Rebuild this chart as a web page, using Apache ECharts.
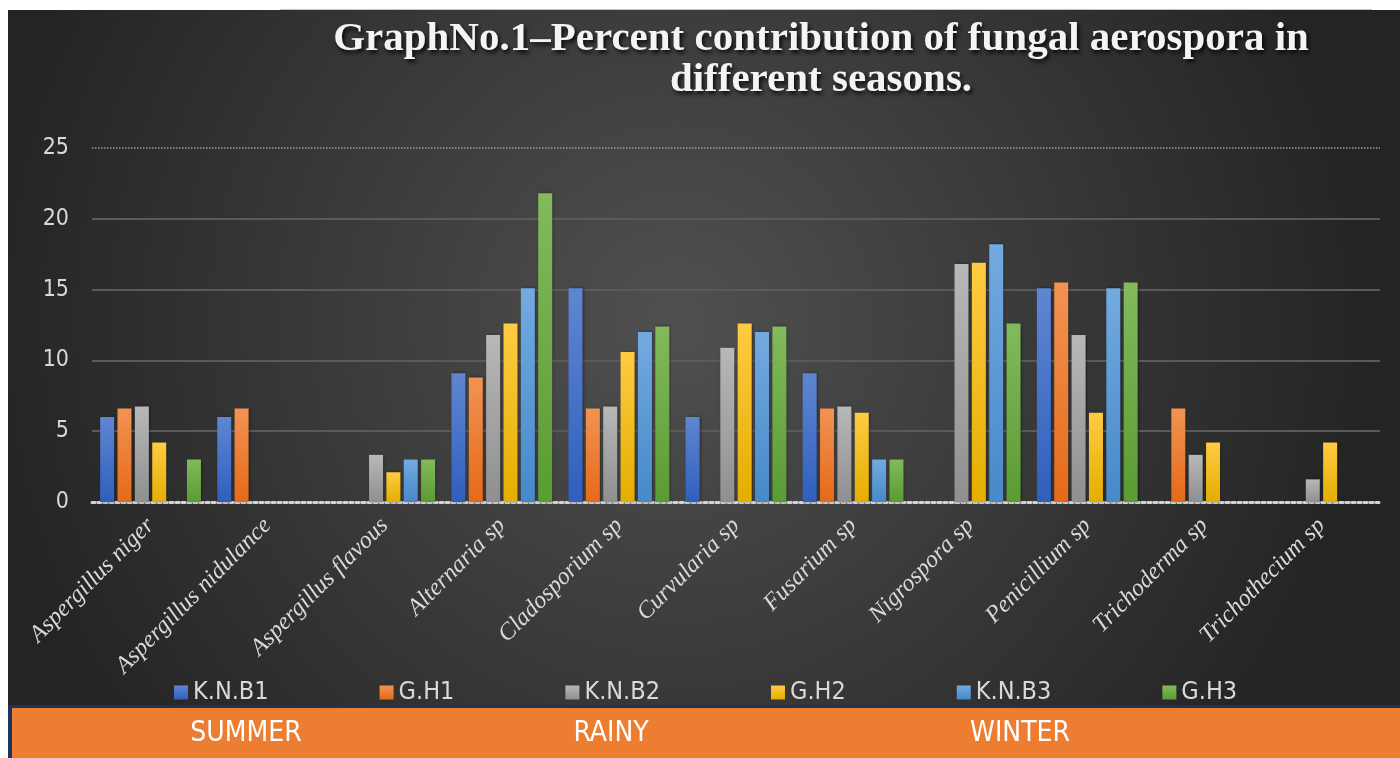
<!DOCTYPE html>
<html>
<head>
<meta charset="utf-8">
<script src="https://cdn.jsdelivr.net/npm/echarts@6/dist/echarts.min.js"></script>
<style>
html,body{margin:0;padding:0;background:#fff;}
#chart{width:1400px;height:758px;}
</style>
</head>
<body>
<div id="chart"></div>
<script>
const categories = ['Aspergillus niger','Aspergillus nidulance','Aspergillus flavous','Alternaria sp','Cladosporium sp','Curvularia sp','Fusarium sp','Nigrospora sp','Penicillium sp','Trichoderma sp','Trichothecium sp'];
const seriesNames = ['K.N.B1','G.H1','K.N.B2','G.H2','K.N.B3','G.H3'];
const knb1 = [6.0, 6.0, 0, 9.1, 15.1, 6.0, 9.1, 0, 15.1, 0, 0];
const gh1  = [6.6, 6.6, 0, 8.8, 6.6, 0, 6.6, 0, 15.5, 6.6, 0];
const knb2 = [6.75, 0, 3.33, 11.8, 6.75, 10.9, 6.75, 16.8, 11.8, 3.33, 1.6];
const gh2  = [4.2, 0, 2.1, 12.6, 10.6, 12.6, 6.3, 16.9, 6.3, 4.2, 4.2];
const knb3 = [0, 0, 3.0, 15.1, 12.0, 12.0, 3.0, 18.2, 15.1, 0, 0];
const gh3  = [3.0, 0, 3.0, 21.8, 12.4, 12.4, 3.0, 12.6, 15.5, 0, 0];
const yTicks = [0, 5, 10, 15, 20, 25];
const seasons = ['SUMMER', 'RAINY', 'WINTER'];
const titleText = 'GraphNo.1\u2013Percent contribution of fungal aerospora in\ndifferent seasons.';

const allData = [knb1, gh1, knb2, gh2, knb3, gh3];
const gradients = [
  ['#5f86d2', '#2f5fbd'],
  ['#f29353', '#e56a18'],
  ['#b8b8b8', '#8f8f8f'],
  ['#ffcb42', '#e4ae00'],
  ['#73aae0', '#4689c9'],
  ['#82ba5c', '#5a9b33']
];
const narrow = '"Liberation Sans Narrow","DejaVu Sans Condensed","Liberation Sans",sans-serif';

const series = seriesNames.map((name, i) => {
  const s = {
    name: name,
    type: 'bar',
    data: allData[i],
    barWidth: 14,
    barGap: '24%',
    itemStyle: {
      color: new echarts.graphic.LinearGradient(0, 0, 0, 1, [
        {offset: 0, color: gradients[i][0]},
        {offset: 1, color: gradients[i][1]}
      ]),
      shadowColor: 'rgba(0,0,0,0.45)',
      shadowBlur: 3,
      shadowOffsetX: 1
    }
  };
  if (i === 0) {
    s.markLine = {
      silent: true,
      symbol: 'none',
      label: {show: false},
      lineStyle: {type: 'dotted', color: '#9a9a9a', width: 1.5},
      data: [{yAxis: yTicks[yTicks.length - 1]}]
    };
  }
  return s;
});

const chart = echarts.init(document.getElementById('chart'));
chart.setOption({
  backgroundColor: '#ffffff',
  animation: false,
  title: {
    text: titleText,
    left: 816,
    top: 14,
    textAlign: 'center',
    textStyle: {
      fontFamily: '"Liberation Serif","DejaVu Serif",serif',
      fontWeight: 'bold',
      fontSize: 41,
      lineHeight: 41,
      color: '#f4f4f4',
      textShadowColor: 'rgba(0,0,0,0.85)',
      textShadowBlur: 4,
      textShadowOffsetX: 2,
      textShadowOffsetY: 3
    }
  },
  legend: {
    data: seriesNames,
    left: 169,
    top: 675,
    itemWidth: 14,
    itemHeight: 14,
    itemGap: 111,
    icon: 'rect',
    textStyle: {color: '#d9d9d9', fontSize: 25, fontFamily: narrow}
  },
  grid: {left: 92, right: 20, top: 148, bottom: 256, containLabel: false},
  xAxis: {
    type: 'category',
    data: categories,
    axisTick: {show: false},
    axisLine: {show: true, lineStyle: {color: '#d4d4d4', width: 3, type: 'dotted'}},
    axisLabel: {
      rotate: 45,
      margin: 20,
      interval: 0,
      color: '#d9d9d9',
      fontSize: 24,
      fontStyle: 'italic',
      fontFamily: '"Liberation Serif","DejaVu Serif",serif'
    }
  },
  yAxis: {
    type: 'value',
    min: yTicks[0],
    max: yTicks[yTicks.length - 1],
    interval: 5,
    axisLine: {show: false},
    axisTick: {show: false},
    axisLabel: {color: '#d9d9d9', fontSize: 23, margin: 23, fontFamily: narrow},
    splitLine: {show: true, showMaxLine: false, lineStyle: {color: '#5a5a5a', width: 2}}
  },
  graphic: [
    {type: 'rect', z: -100, silent: true, shape: {x: 8, y: 10, width: 1392, height: 695},
     style: {fill: new echarts.graphic.RadialGradient(0.48, 0.45, 1.0, [
       {offset: 0, color: '#505050'}, {offset: 1, color: '#242424'}])}},
    {type: 'line', z: -100, silent: true, shape: {x1: 280, y1: 9.5, x2: 1372, y2: 9.5},
     style: {stroke: '#c4c4c4', lineWidth: 1}},
    {type: 'rect', z: 10, silent: true, shape: {x: 8, y: 705, width: 1392, height: 53}, style: {fill: '#1f3257'}},
    {type: 'rect', z: 11, silent: true, shape: {x: 12, y: 708, width: 1388, height: 50}, style: {fill: '#ED7D31'}},
    {type: 'text', z: 12, silent: true, x: 246, y: 734,
     style: {text: seasons[0], fill: '#ffffff', fontSize: 28, fontFamily: narrow, textAlign: 'center', textVerticalAlign: 'middle'}},
    {type: 'text', z: 12, silent: true, x: 611, y: 734,
     style: {text: seasons[1], fill: '#ffffff', fontSize: 28, fontFamily: narrow, textAlign: 'center', textVerticalAlign: 'middle'}},
    {type: 'text', z: 12, silent: true, x: 1020, y: 734,
     style: {text: seasons[2], fill: '#ffffff', fontSize: 28, fontFamily: narrow, textAlign: 'center', textVerticalAlign: 'middle'}}
  ],
  series: series
});
</script>
</body>
</html>
